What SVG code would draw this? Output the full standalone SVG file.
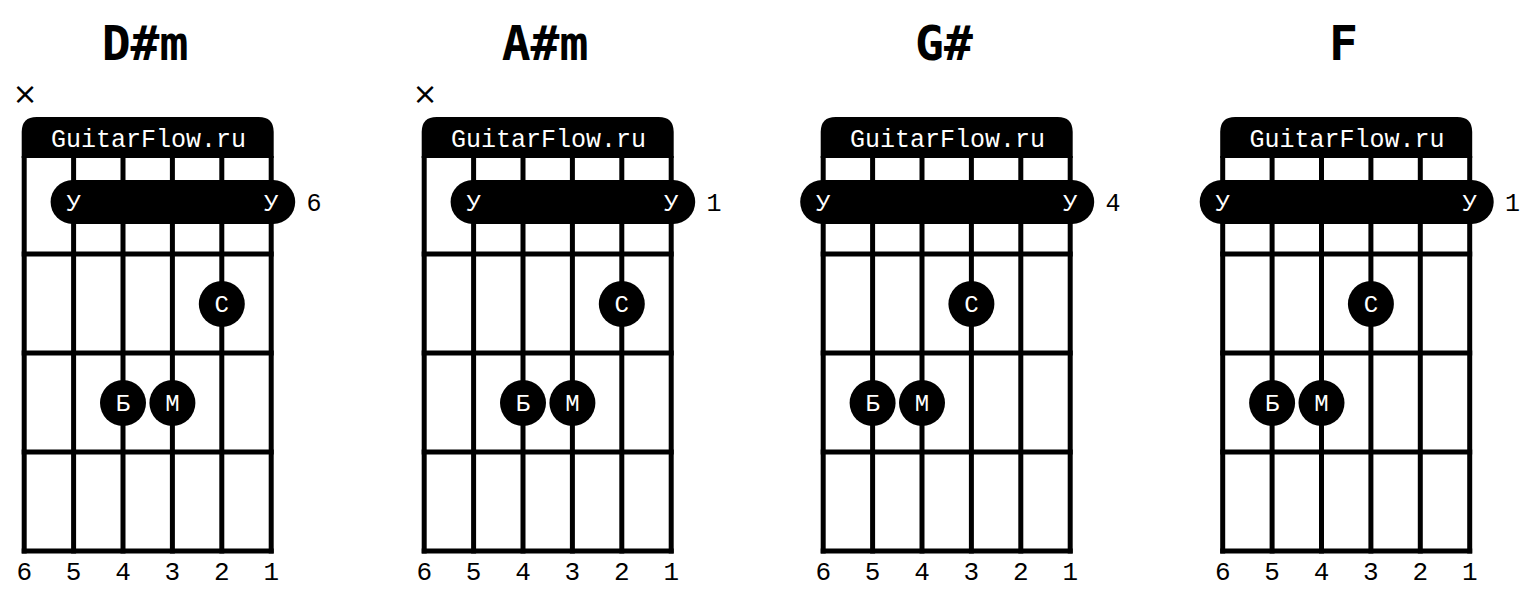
<svg xmlns="http://www.w3.org/2000/svg" xmlns:xlink="http://www.w3.org/1999/xlink" width="1536" height="603" viewBox="0 0 1536 603">
<style>
.title{font-family:"DejaVu Sans Mono",monospace;font-weight:bold;font-size:48px;text-anchor:middle;fill:#000}
.mono{font-family:"Liberation Mono","DejaVu Sans Mono",monospace;fill:#000}
.hdr{font-size:25px;fill:#fff;text-anchor:middle}
.lbl{font-size:26px;text-anchor:middle}
.fr{font-size:25px;text-anchor:middle}
.dot{fill:#000}
.dt{font-size:24px;fill:#fff;text-anchor:middle}
.x{font-family:"DejaVu Sans",sans-serif;font-size:30px;text-anchor:middle;fill:#000}
.ln{stroke:#000;stroke-width:5;fill:none}
</style>
<defs>
<g id="board">
<path d="M21.7,158 V132 Q21.7,117 36.7,117 H258.7 Q273.7,117 273.7,132 V158 Z" fill="#000"/>
<text class="mono hdr" x="148.5" y="147">GuitarFlow.ru</text>
<g class="ln">
<line x1="24.2" y1="156" x2="24.2" y2="553.5"/>
<line x1="73.6" y1="156" x2="73.6" y2="553.5"/>
<line x1="123" y1="156" x2="123" y2="553.5"/>
<line x1="172.4" y1="156" x2="172.4" y2="553.5"/>
<line x1="221.8" y1="156" x2="221.8" y2="553.5"/>
<line x1="271.2" y1="156" x2="271.2" y2="553.5"/>
<line x1="21.7" y1="254" x2="273.7" y2="254"/>
<line x1="21.7" y1="353" x2="273.7" y2="353"/>
<line x1="21.7" y1="452" x2="273.7" y2="452"/>
<line x1="21.7" y1="551" x2="273.7" y2="551"/>
</g>
<g class="mono lbl">
<text x="24.2" y="580">6</text>
<text x="73.6" y="580">5</text>
<text x="123" y="580">4</text>
<text x="172.4" y="580">3</text>
<text x="221.8" y="580">2</text>
<text x="271.2" y="580">1</text>
</g>
</g>
</defs>

<g id="chord-dsm">
<text class="title" x="145" y="60">D#m</text>
<text class="x" x="25" y="104">×</text>
<use xlink:href="#board" href="#board"/>
<rect x="50.6" y="180" width="244.6" height="44" rx="22" class="dot"/>
<text class="mono dt" x="73.6" y="211">У</text>
<text class="mono dt" x="271.2" y="211">У</text>
<text class="mono fr" x="314" y="211">6</text>
<circle cx="221.8" cy="304" r="23" class="dot"/><text class="mono dt" x="221.8" y="312">С</text>
<circle cx="123" cy="403" r="23" class="dot"/><text class="mono dt" x="123" y="411">Б</text>
<circle cx="172.4" cy="403" r="23" class="dot"/><text class="mono dt" x="172.4" y="411">М</text>
</g>

<g id="chord-asm" transform="translate(400,0)">
<text class="title" x="145" y="60">A#m</text>
<text class="x" x="25" y="104">×</text>
<use xlink:href="#board" href="#board"/>
<rect x="50.6" y="180" width="244.6" height="44" rx="22" class="dot"/>
<text class="mono dt" x="73.6" y="211">У</text>
<text class="mono dt" x="271.2" y="211">У</text>
<text class="mono fr" x="314" y="211">1</text>
<circle cx="221.8" cy="304" r="23" class="dot"/><text class="mono dt" x="221.8" y="312">С</text>
<circle cx="123" cy="403" r="23" class="dot"/><text class="mono dt" x="123" y="411">Б</text>
<circle cx="172.4" cy="403" r="23" class="dot"/><text class="mono dt" x="172.4" y="411">М</text>
</g>

<g id="chord-gs" transform="translate(799,0)">
<text class="title" x="145" y="60">G#</text>
<use xlink:href="#board" href="#board"/>
<rect x="1.2" y="180" width="294" height="44" rx="22" class="dot"/>
<text class="mono dt" x="24.2" y="211">У</text>
<text class="mono dt" x="271.2" y="211">У</text>
<text class="mono fr" x="314" y="211">4</text>
<circle cx="172.4" cy="304" r="23" class="dot"/><text class="mono dt" x="172.4" y="312">С</text>
<circle cx="73.6" cy="403" r="23" class="dot"/><text class="mono dt" x="73.6" y="411">Б</text>
<circle cx="123" cy="403" r="23" class="dot"/><text class="mono dt" x="123" y="411">М</text>
</g>

<g id="chord-f" transform="translate(1198.5,0)">
<text class="title" x="145" y="60">F</text>
<use xlink:href="#board" href="#board"/>
<rect x="1.2" y="180" width="294" height="44" rx="22" class="dot"/>
<text class="mono dt" x="24.2" y="211">У</text>
<text class="mono dt" x="271.2" y="211">У</text>
<text class="mono fr" x="314" y="211">1</text>
<circle cx="172.4" cy="304" r="23" class="dot"/><text class="mono dt" x="172.4" y="312">С</text>
<circle cx="73.6" cy="403" r="23" class="dot"/><text class="mono dt" x="73.6" y="411">Б</text>
<circle cx="123" cy="403" r="23" class="dot"/><text class="mono dt" x="123" y="411">М</text>
</g>
</svg>
